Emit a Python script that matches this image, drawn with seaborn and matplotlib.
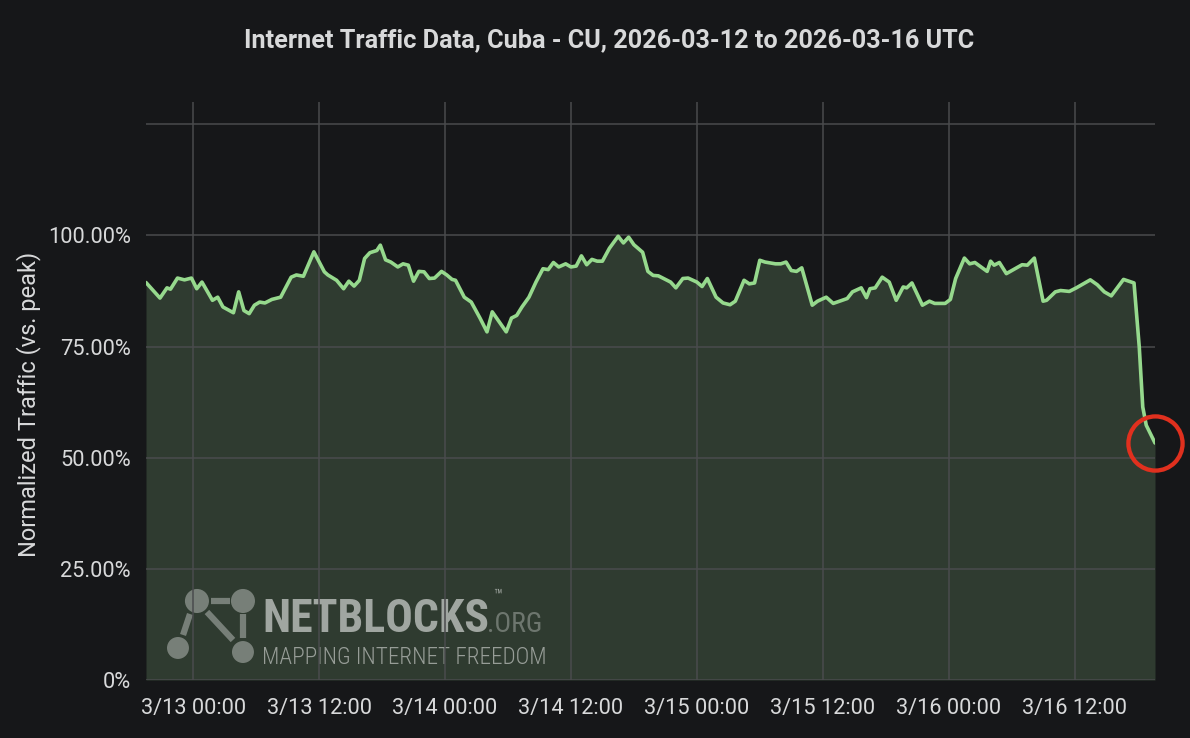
"""
Internet traffic chart for Cuba, 2026-03-12 to 2026-03-16 (NetBlocks style).
"""

import matplotlib
matplotlib.use("Agg")
import matplotlib.pyplot as plt
import matplotlib.dates as mdates
from matplotlib.ticker import FuncFormatter
import pandas as pd
import seaborn as sns

# --- data --------------------------------------------------------------------
timestamps = [
    "2026-03-12 19:30", "2026-03-12 20:50", "2026-03-12 21:30", "2026-03-12 21:50",
    "2026-03-12 22:30", "2026-03-12 23:10", "2026-03-12 23:50", "2026-03-13 00:20",
    "2026-03-13 00:50", "2026-03-13 01:50", "2026-03-13 02:20", "2026-03-13 02:50",
    "2026-03-13 03:50", "2026-03-13 04:20", "2026-03-13 04:50", "2026-03-13 05:20",
    "2026-03-13 05:50", "2026-03-13 06:20", "2026-03-13 06:50", "2026-03-13 07:30",
    "2026-03-13 08:20", "2026-03-13 09:20", "2026-03-13 09:50", "2026-03-13 10:30",
    "2026-03-13 11:30", "2026-03-13 12:30", "2026-03-13 12:50", "2026-03-13 13:40",
    "2026-03-13 14:20", "2026-03-13 14:50", "2026-03-13 15:20", "2026-03-13 15:50",
    "2026-03-13 16:20", "2026-03-13 16:50", "2026-03-13 17:30", "2026-03-13 17:50",
    "2026-03-13 18:20", "2026-03-13 18:50", "2026-03-13 19:30", "2026-03-13 20:00",
    "2026-03-13 20:30", "2026-03-13 21:00", "2026-03-13 21:30", "2026-03-13 22:00",
    "2026-03-13 22:30", "2026-03-13 23:00", "2026-03-13 23:40", "2026-03-14 00:10",
    "2026-03-14 00:40", "2026-03-14 01:00", "2026-03-14 01:50", "2026-03-14 02:30",
    "2026-03-14 03:20", "2026-03-14 04:00", "2026-03-14 04:30", "2026-03-14 05:50",
    "2026-03-14 06:20", "2026-03-14 06:50", "2026-03-14 07:20", "2026-03-14 08:00",
    "2026-03-14 08:40", "2026-03-14 09:20", "2026-03-14 09:50", "2026-03-14 10:20",
    "2026-03-14 10:50", "2026-03-14 11:30", "2026-03-14 12:00", "2026-03-14 12:30",
    "2026-03-14 13:00", "2026-03-14 13:30", "2026-03-14 14:00", "2026-03-14 14:30",
    "2026-03-14 15:00", "2026-03-14 15:40", "2026-03-14 16:30", "2026-03-14 17:00",
    "2026-03-14 17:30", "2026-03-14 18:00", "2026-03-14 18:50", "2026-03-14 19:20",
    "2026-03-14 19:50", "2026-03-14 20:20", "2026-03-14 21:30", "2026-03-14 22:00",
    "2026-03-14 22:40", "2026-03-14 23:10", "2026-03-15 00:00", "2026-03-15 00:30",
    "2026-03-15 01:00", "2026-03-15 01:50", "2026-03-15 02:30", "2026-03-15 03:10",
    "2026-03-15 03:40", "2026-03-15 04:30", "2026-03-15 05:00", "2026-03-15 05:30",
    "2026-03-15 06:00", "2026-03-15 06:30", "2026-03-15 07:30", "2026-03-15 08:00",
    "2026-03-15 08:30", "2026-03-15 09:00", "2026-03-15 09:30", "2026-03-15 10:00",
    "2026-03-15 11:00", "2026-03-15 11:30", "2026-03-15 12:20", "2026-03-15 13:00",
    "2026-03-15 13:50", "2026-03-15 14:20", "2026-03-15 14:50", "2026-03-15 15:40",
    "2026-03-15 16:10", "2026-03-15 16:30", "2026-03-15 17:00", "2026-03-15 17:40",
    "2026-03-15 18:20", "2026-03-15 19:00", "2026-03-15 19:40", "2026-03-15 20:00",
    "2026-03-15 20:30", "2026-03-15 21:30", "2026-03-15 22:10", "2026-03-15 22:40",
    "2026-03-15 23:40", "2026-03-16 00:10", "2026-03-16 00:40", "2026-03-16 01:30",
    "2026-03-16 02:00", "2026-03-16 02:30", "2026-03-16 03:40", "2026-03-16 04:00",
    "2026-03-16 04:20", "2026-03-16 04:50", "2026-03-16 05:30", "2026-03-16 06:20",
    "2026-03-16 07:00", "2026-03-16 07:30", "2026-03-16 08:10", "2026-03-16 09:00",
    "2026-03-16 09:20", "2026-03-16 10:10", "2026-03-16 10:40", "2026-03-16 11:30",
    "2026-03-16 12:10", "2026-03-16 12:50", "2026-03-16 13:30", "2026-03-16 14:10",
    "2026-03-16 14:50", "2026-03-16 15:30", "2026-03-16 16:40", "2026-03-16 17:40",
    "2026-03-16 18:10", "2026-03-16 18:30", "2026-03-16 18:50", "2026-03-16 19:40",
]

traffic_pct = [
    89.4, 85.9, 88.2, 87.9, 90.4, 90.0, 90.4, 88.0,
    89.5, 85.4, 86.1, 83.9, 82.6, 87.3, 83.1, 82.4,
    84.3, 85.0, 84.8, 85.6, 86.1, 90.6, 91.1, 90.8,
    96.3, 91.8, 91.1, 89.9, 88.0, 89.7, 88.6, 89.9,
    94.8, 96.1, 96.6, 97.8, 94.5, 94.0, 92.9, 93.6,
    93.3, 89.7, 91.9, 91.8, 90.3, 90.4, 91.9, 91.1,
    90.1, 89.9, 86.1, 85.0, 81.4, 78.3, 82.8, 78.3,
    81.4, 82.0, 83.9, 86.1, 89.5, 92.5, 92.3, 93.9,
    92.9, 93.6, 92.9, 93.1, 95.4, 93.4, 94.6, 94.2,
    94.2, 97.1, 99.8, 98.3, 99.6, 97.9, 96.2, 91.9,
    91.0, 90.9, 89.5, 88.2, 90.3, 90.4, 89.5, 88.5,
    90.3, 86.1, 84.8, 84.4, 85.2, 89.9, 89.1, 89.3,
    94.4, 94.0, 93.6, 93.6, 94.0, 92.1, 91.9, 92.7,
    84.3, 85.2, 86.1, 84.7, 85.4, 85.8, 87.3, 88.2,
    86.0, 88.0, 88.2, 90.6, 89.5, 85.4, 88.4, 88.2,
    89.3, 84.3, 85.2, 84.7, 84.7, 85.6, 90.3, 94.9,
    93.6, 93.9, 91.9, 94.2, 93.3, 93.9, 91.4, 92.5,
    93.4, 93.3, 94.9, 85.2, 85.4, 87.3, 87.6, 87.4,
    88.2, 89.1, 90.0, 88.9, 87.3, 86.4, 90.1, 89.3,
    74.9, 61.4, 57.3, 53.3,
]

ytick_values = [0, 25, 50, 75, 100, 125]
ytick_labels = ["0%", "25.00%", "50.00%", "75.00%", "100.00%", ""]

TITLE = "Internet Traffic Data, Cuba - CU, 2026-03-12 to 2026-03-16 UTC"
YLABEL = "Normalized Traffic (vs. peak)"

# --- colours ------------------------------------------------------------------
BG = "#161719"
TEXT = "#d8d9da"
LINE = "#96d98d"
FILL = "#2f3b30"
GRID = "#4a4b4d"
ALERT = "#e0301e"


def draw_watermark(ax):
    """NetBlocks logo in the lower-left corner of the plot."""
    logo = dict(color="white", alpha=0.35, transform=ax.transAxes, zorder=1.2)
    # network icon: four nodes and their links
    nodes_x = [0.0505, 0.0961, 0.0317, 0.0961]
    nodes_y = [0.1367, 0.1367, 0.0554, 0.0484]
    ax.scatter(nodes_x, nodes_y, s=[300, 300, 250, 250], linewidths=0,
               clip_on=False, **logo)
    links = [((0.0640, 0.0830), (0.1367, 0.1367)),
             ((0.0604, 0.0862), (0.1177, 0.0692)),
             ((0.0436, 0.0367), (0.1142, 0.0779)),
             ((0.0961, 0.0961), (0.1142, 0.0727))]
    for lx, ly in links:
        ax.plot(lx, ly, lw=4.5, solid_capstyle="butt", **logo)

    cond = ["Roboto Condensed", "Liberation Sans Narrow", "Roboto"]
    ax.text(0.115, 0.083, "NETBLOCKS", fontsize=33, fontweight="bold",
            family=cond, fontstretch="condensed", color="white", alpha=0.55,
            va="baseline", transform=ax.transAxes, zorder=1.2)
    ax.text(0.338, 0.083, ".ORG", fontsize=20, family=cond,
            color="white", alpha=0.3, va="baseline",
            transform=ax.transAxes, zorder=1.2)
    ax.text(0.344, 0.137, "™", fontsize=12, family=cond,
            color="white", alpha=0.55, va="baseline",
            transform=ax.transAxes, zorder=1.2)
    ax.text(0.115, 0.027, "MAPPING INTERNET FREEDOM", fontsize=16.7,
            fontweight="light", family=cond, color="white", alpha=0.5,
            va="baseline", transform=ax.transAxes, zorder=1.2)


def main():
    df = pd.DataFrame({"time": pd.to_datetime(timestamps),
                       "traffic": traffic_pct})

    sns.set_theme(style="dark", rc={
        "figure.facecolor": BG,
        "axes.facecolor": BG,
        "axes.edgecolor": BG,
        "grid.color": GRID,
        "text.color": TEXT,
        "xtick.color": TEXT,
        "ytick.color": TEXT,
        "axes.labelcolor": TEXT,
    })
    plt.rcParams["font.family"] = ["Roboto", "DejaVu Sans"]

    fig = plt.figure(figsize=(11.9, 7.38), dpi=100)
    ax = fig.add_axes([146 / 1190, 1 - 680 / 738, 1009 / 1190, 578 / 738])

    ax.fill_between(df["time"], df["traffic"], 0, color=FILL, lw=0, zorder=1)
    sns.lineplot(data=df, x="time", y="traffic", ax=ax, color=LINE,
                 linewidth=2.6, zorder=3)

    # highlight on the last reading
    last = df.iloc[-1]
    ax.plot([last["time"]], [last["traffic"]], marker="o", markersize=39,
            markerfacecolor="none", markeredgecolor=ALERT,
            markeredgewidth=3.1, clip_on=False, zorder=4)

    ax.set_xlim(df["time"].min(), df["time"].max())
    ax.set_ylim(0, 130)
    ax.set_yticks(ytick_values)
    ax.set_yticklabels(ytick_labels)
    ax.xaxis.set_major_locator(mdates.HourLocator(byhour=[0, 12]))
    ax.xaxis.set_major_formatter(FuncFormatter(
        lambda v, _: (lambda d: f"{d.month}/{d.day} {d:%H:%M}")(mdates.num2date(v))))

    ax.grid(True, color=GRID, linewidth=1.1)
    ax.set_axisbelow("line")
    ax.tick_params(axis="both", length=0, labelsize=15.7, labelcolor=TEXT)
    ax.tick_params(axis="x", pad=13)
    ax.tick_params(axis="y", pad=11)
    for s in ax.spines.values():
        s.set_visible(False)

    ax.set_xlabel("")
    ax.set_ylabel(YLABEL, fontsize=17)
    ax.yaxis.set_label_coords(-0.104, 0.476)

    draw_watermark(ax)

    fig.suptitle(TITLE, x=609 / 1190, y=1 - 40 / 738, va="center",
                 fontsize=18.2, fontweight="semibold", color=TEXT)

    fig.savefig("out.png", dpi=100, facecolor=BG)
    plt.close(fig)


if __name__ == "__main__":
    main()
